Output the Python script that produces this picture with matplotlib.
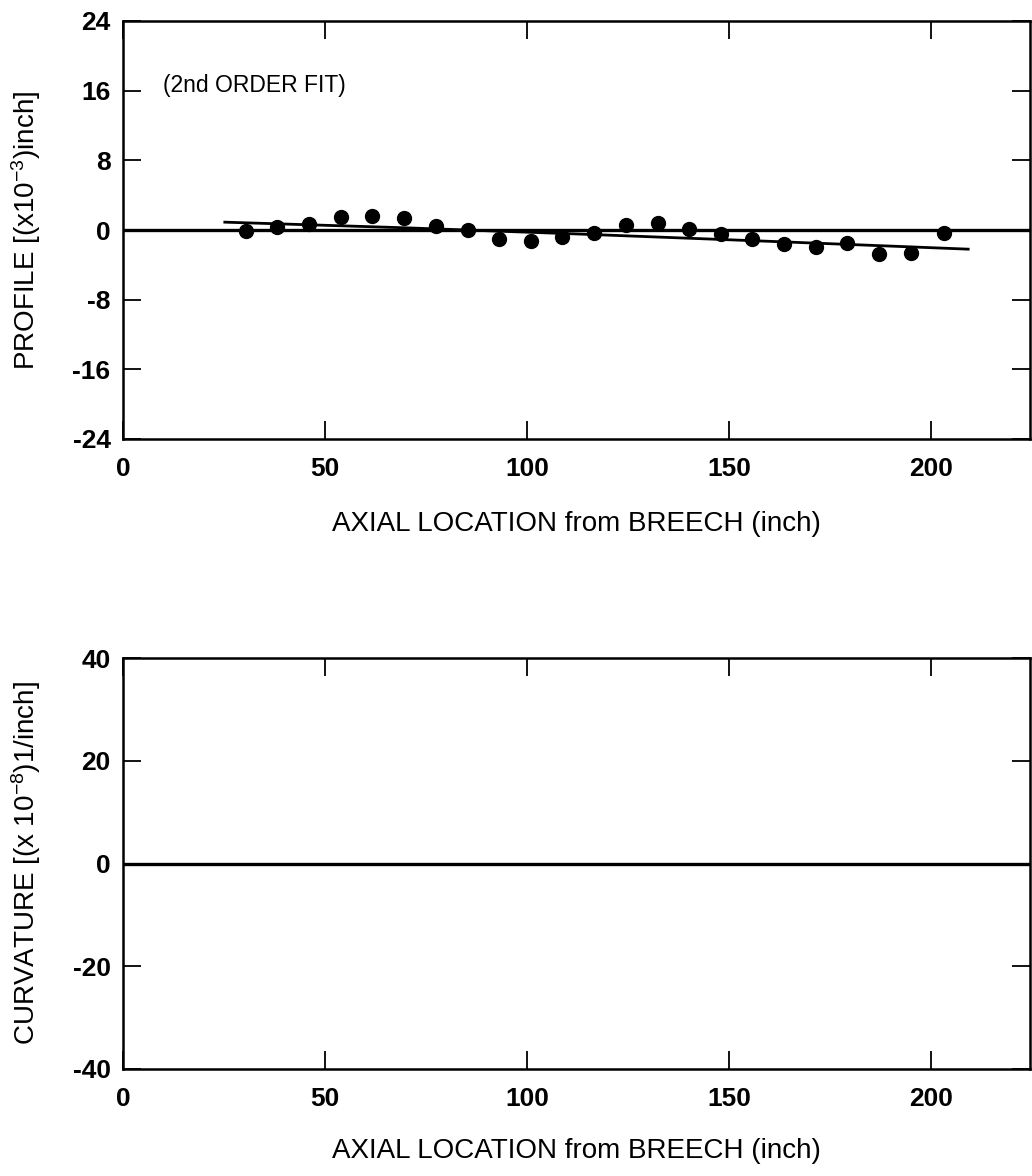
import matplotlib
matplotlib.use("Agg")
import matplotlib.pyplot as plt

plt.rcParams['font.family'] = ['Liberation Sans', 'DejaVu Sans']
plt.rcParams['mathtext.fontset'] = 'custom'
plt.rcParams['mathtext.rm'] = 'Liberation Sans'
plt.rcParams['mathtext.default'] = 'regular'
plt.rcParams['axes.unicode_minus'] = False

# measured profile points (x in inch, y in 1e-3 inch)
axial = [30.4, 38.1, 46.1, 54.0, 61.7, 69.6, 77.5, 85.4, 93.1, 101.0, 108.7, 116.6,
         124.5, 132.4, 140.1, 148.0, 155.7, 163.6, 171.5, 179.2, 187.1, 195.0, 203.2]
profile = [-0.1, 0.4, 0.7, 1.5, 1.6, 1.4, 0.5, 0.0, -1.0, -1.3, -0.8, -0.35,
           0.55, 0.8, 0.1, -0.45, -1.0, -1.6, -2.0, -1.5, -2.7, -2.6, -0.4]

# 2nd order fit curve
fit_x = [25.2, 70.0, 115.0, 160.0, 209.2]
fit_y = [0.9, 0.25, -0.5, -1.3, -2.2]

# curvature of the fit (x 1e-8 1/inch)
curv_x = [25.2, 209.2]
curv_y = [0.0, 0.0]

prof_ticks = [-24, -16, -8, 0, 8, 16, 24]
curv_ticks = [-40, -20, 0, 20, 40]
x_ticks = [0, 50, 100, 150, 200]

W, H = 1032, 1176
fig = plt.figure(figsize=(W / 100, H / 100), dpi=100)
left = 123 / W
width = (1030 - 123) / W
ax1 = fig.add_axes([left, 1 - 439 / H, width, 418 / H])
ax2 = fig.add_axes([left, 1 - 1069 / H, width, 411 / H])


def style(ax, yticks, ylabel):
    ax.set_xlim(0, 224.5)
    ax.set_ylim(yticks[0], yticks[-1])
    ax.set_xticks(x_ticks)
    ax.set_yticks(yticks)
    ax.tick_params(direction='in', top=True, right=True, length=13, width=1.3,
                   labelsize=19, color='black')
    ax.tick_params(axis='x', pad=13)
    ax.tick_params(axis='y', pad=9)
    for lab in ax.get_xticklabels() + ax.get_yticklabels():
        lab.set_fontweight('bold')
    for s in ax.spines.values():
        s.set_linewidth(1.8)
    ax.set_xlabel('AXIAL LOCATION from BREECH (inch)', fontsize=20)
    ax.set_ylabel(ylabel, fontsize=20)
    ax.yaxis.set_label_coords(-0.088, 0.5)
    ax.axhline(0, color='black', lw=2.4)


style(ax1, prof_ticks, 'PROFILE [(x10$^{-3}$)inch]')
ax1.xaxis.set_label_coords(0.5, -0.172)
ax1.plot(fit_x, fit_y, color='black', lw=2.0)
ax1.plot(axial, profile, 'o', color='black', ms=10)
ax1.text(9.9, 16.6, '(2nd ORDER FIT)', fontsize=16.5, va='center', ha='left')

style(ax2, curv_ticks, 'CURVATURE [(x 10$^{-8}$)1/inch]')
ax2.xaxis.set_label_coords(0.5, -0.168)
ax2.plot(curv_x, curv_y, color='black', lw=2.0)

fig.savefig('out.png', dpi=100)
